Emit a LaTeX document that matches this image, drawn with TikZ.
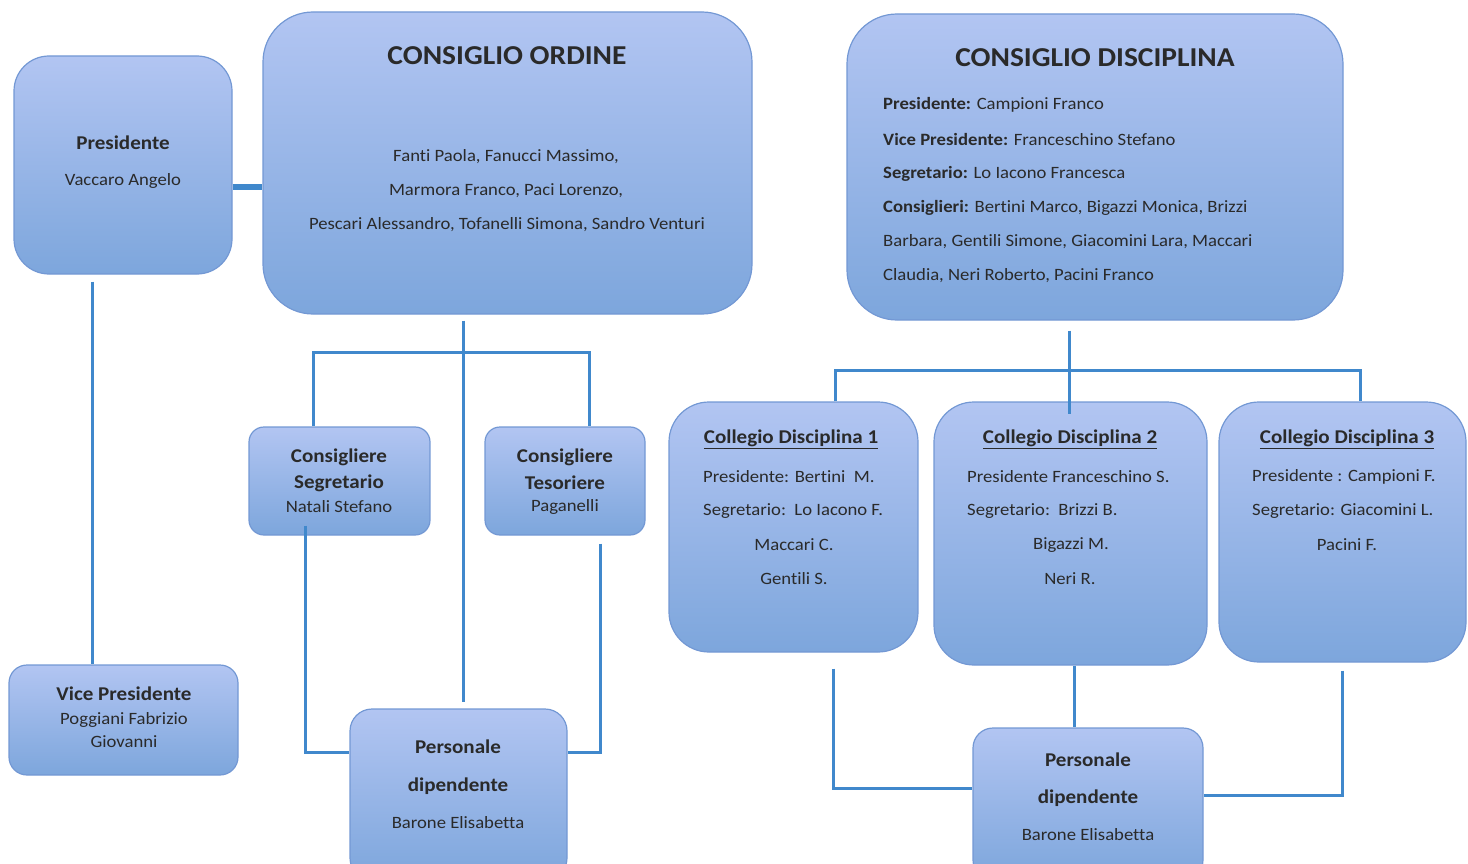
\documentclass[tikz,border=0pt]{standalone}
\usepackage{fontspec}
\setmainfont{Carlito}[FakeStretch=1.08, Ligatures=NoCommon]
\usepackage{xcolor}
\definecolor{boxtop}{HTML}{B2C5F2}
\definecolor{boxbot}{HTML}{7DA6DC}
\definecolor{boxline}{HTML}{7398D4}
\definecolor{linea}{HTML}{4088CC}
\definecolor{testo}{HTML}{2A2A2A}

\begin{document}
\begin{tikzpicture}[x=1pt, y=-1pt,
    cella/.style={draw=boxline, line width=1.2pt, top color=boxtop, bottom color=boxbot, inner sep=0pt},
    link/.style={draw=linea, line width=3pt},
    nome/.style={text=testo, inner sep=0pt, font=\fontsize{17.3}{20}\selectfont},
    ruolo/.style={text=testo, inner sep=0pt, font=\fontsize{19.5}{23}\selectfont\bfseries},
    titolo/.style={text=testo, inner sep=0pt, font=\fontsize{27.3}{31}\selectfont\bfseries}]
    \useasboundingbox (0,0) rectangle (1468,864);

    % riquadri
    \node[cella, rounded corners=35pt, minimum width=218pt, minimum height=218pt] (pres) at (123,165) {};
    \node[cella, rounded corners=50pt, minimum width=489pt, minimum height=302pt] (co) at (507.5,163) {};
    \node[cella, rounded corners=50pt, minimum width=496pt, minimum height=306pt] (cd) at (1095,167) {};
    \node[cella, rounded corners=18pt, minimum width=229pt, minimum height=110pt] (vp) at (123.5,720) {};
    \node[cella, rounded corners=15pt, minimum width=181pt, minimum height=108pt] (segr) at (339.5,481) {};
    \node[cella, rounded corners=15pt, minimum width=160pt, minimum height=108pt] (tes) at (565,481) {};
    \node[cella, rounded corners=22pt, minimum width=217pt, minimum height=171pt] (pdo) at (458.5,794.5) {};
    \node[cella, rounded corners=40pt, minimum width=249pt, minimum height=250pt] (c1) at (793.5,527) {};
    \node[cella, rounded corners=40pt, minimum width=273pt, minimum height=263pt] (c2) at (1070.5,533.5) {};
    \node[cella, rounded corners=40pt, minimum width=247pt, minimum height=260pt] (c3) at (1342.5,532) {};
    \node[cella, rounded corners=20pt, minimum width=230pt, minimum height=152pt] (pdd) at (1088,804) {};

    % testi
    \node[ruolo] (presA) at (123,143) {Presidente};
    \node[nome] (presB) at (123,181) {Vaccaro Angelo};

    \node[titolo] (coA) at (507,56) {CONSIGLIO ORDINE};
    \node[nome] (coB) at (506,157) {Fanti Paola, Fanucci Massimo,};
    \node[nome] (coC) at (506,191) {Marmora Franco, Paci Lorenzo,};
    \node[nome] (coD) at (507,225) {Pescari Alessandro, Tofanelli Simona, Sandro Venturi};

    \node[titolo] (cdA) at (1095,58) {CONSIGLIO DISCIPLINA};
    \node[nome, anchor=west] (cdB) at (883,105) {\textbf{Presidente:} Campioni Franco};
    \node[nome, anchor=west] (cdC) at (883,139) {\textbf{Vice Presidente:} Franceschino Stefano};
    \node[nome, anchor=west] (cdD) at (883,174) {\textbf{Segretario:} Lo Iacono Francesca};
    \node[nome, anchor=west] (cdE) at (883,208) {\textbf{Consiglieri:} Bertini Marco, Bigazzi Monica, Brizzi};
    \node[nome, anchor=west] (cdF) at (883,242) {Barbara, Gentili Simone, Giacomini Lara, Maccari};
    \node[nome, anchor=west] (cdG) at (883,276) {Claudia, Neri Roberto, Pacini Franco};

    \node[ruolo] (vpA) at (124,694) {Vice Presidente};
    \node[nome] (vpB) at (124,720) {Poggiani Fabrizio};
    \node[nome] (vpC) at (124,742) {Giovanni};

    \node[ruolo] (segrA) at (339,457) {Consigliere};
    \node[ruolo] (segrB) at (339,483) {Segretario};
    \node[nome] (segrC) at (339,507) {Natali Stefano};

    \node[ruolo] (tesA) at (565,457) {Consigliere};
    \node[ruolo] (tesB) at (565,483) {Tesoriere};
    \node[nome] (tesC) at (565,507) {Paganelli};

    \node[ruolo] (pdoA) at (458,747) {Personale};
    \node[ruolo] (pdoB) at (458,786) {dipendente};
    \node[nome] (pdoC) at (458,823) {Barone Elisabetta};

    \node[ruolo] (c1A) at (791,439) {\underline{Collegio Disciplina 1}};
    \node[nome, anchor=west] (c1B) at (703,477) {Presidente: Bertini\ \ M.};
    \node[nome, anchor=west] (c1C) at (703,511) {Segretario:\ \ Lo Iacono F.};
    \node[nome] (c1D) at (794,545) {Maccari C.};
    \node[nome] (c1E) at (794,579) {Gentili S.};

    \node[ruolo] (c2A) at (1070,439) {\underline{Collegio Disciplina 2}};
    \node[nome, anchor=west] (c2B) at (967,477) {Presidente Franceschino S.};
    \node[nome, anchor=west] (c2C) at (967,511) {Segretario:\ \ Brizzi B.};
    \node[nome] (c2D) at (1071,545) {Bigazzi M.};
    \node[nome] (c2E) at (1070,579) {Neri R.};

    \node[ruolo] (c3A) at (1347,439) {\underline{Collegio Disciplina 3}};
    \node[nome, anchor=west] (c3B) at (1252,477) {Presidente : Campioni F.};
    \node[nome, anchor=west] (c3C) at (1252,511) {Segretario: Giacomini L.};
    \node[nome] (c3D) at (1347,545) {Pacini F.};

    \node[ruolo] (pddA) at (1088,760) {Personale};
    \node[ruolo] (pddB) at (1088,798) {dipendente};
    \node[nome] (pddC) at (1088,835) {Barone Elisabetta};

    % collegamenti ordine
    \coordinate (barO) at (463,352);
    \draw[link, line width=6pt] ([yshift=-22pt]pres.east) -- ([yshift=-22pt]pres.east -| co.west);
    \draw[link, shorten <=7pt] ([xshift=-31pt]pres.south) -- ([xshift=-31pt]pres.south |- vp.north);
    \draw[link, shorten <=6pt, shorten >=6pt] ([xshift=-44pt]co.south) -- ([xshift=-44pt]co.south |- pdo.north);
    \draw[link] ([xshift=-26pt]segr.north) |- (barO) -| ([xshift=24pt]tes.north);
    \draw[link, shorten <=-10pt] ([xshift=-34pt]segr.south) |- ([yshift=42pt]pdo.west);
    \draw[link, shorten <=8pt] ([xshift=35pt]tes.south) |- ([yshift=42pt]pdo.east);

    % collegamenti disciplina
    \coordinate (barD) at (1069,370);
    \draw[link, shorten <=10pt, shorten >=-13pt] ([xshift=-26pt]cd.south) -- ([xshift=-26pt]cd.south |- c2.north);
    \draw[link] ([xshift=42pt]c1.north) |- (barD) -| ([xshift=18pt]c3.north);
    \draw[link, shorten <=16pt] ([xshift=40pt]c1.south) |- ([yshift=16pt]pdd.west);
    \draw[link] ([xshift=4pt]c2.south) -- ([xshift=4pt]c2.south |- pdd.north);
    \draw[link, shorten <=8pt] (c3.south) |- ([yshift=9pt]pdd.east);
\end{tikzpicture}
\end{document}
